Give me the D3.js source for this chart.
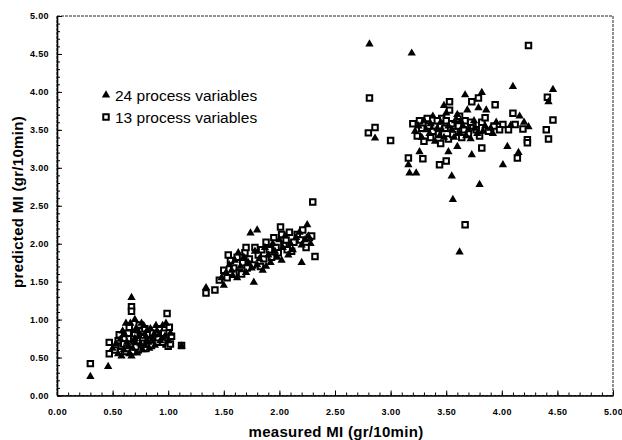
<!DOCTYPE html>
<html>
<head>
<meta charset="utf-8">
<script src="https://cdn.jsdelivr.net/npm/d3@7"></script>
<style>
  body { margin: 0; background: #fff; }
  text { font-family: Arial, "Liberation Sans", sans-serif; fill: #000; }
</style>
</head>
<body>
<div id="chart"></div>
<script>
const width = 622;
const height = 440;

// axis ticks
const tickValues = [0, 0.5, 1, 1.5, 2, 2.5, 3, 3.5, 4, 4.5, 5];
const seriesNames = ["24 process variables", "13 process variables"];

// [measured, predicted] - 24 process variables (triangles)
const tri24 = [
    // low range
    [0.30,0.25],[0.46,0.38],[0.67,1.29],[0.70,1.00],[0.62,0.95],[0.66,0.95],[0.55,0.55],[0.58,0.52],
    [0.60,0.60],[0.63,0.70],[0.65,0.55],[0.67,0.52],[0.68,0.62],[0.70,0.75],[0.72,0.56],[0.73,0.85],
    [0.75,0.68],[0.77,0.60],[0.78,0.92],[0.80,0.78],[0.82,0.70],[0.84,0.88],[0.86,0.75],[0.88,0.66],
    [0.90,0.85],[0.92,0.80],[0.95,0.92],[0.98,0.95],[1.00,0.72],[1.02,0.82],[0.50,0.62],[0.53,0.68],
    [0.57,0.74],[0.61,0.80],[0.64,0.64],[0.69,0.70],[0.74,0.78],[0.79,0.66],[0.83,0.62],[0.87,0.80],
    [0.93,0.72],[0.97,0.78],[1.12,0.65],[0.71,0.88],[0.76,0.95],[0.59,0.85],[0.81,0.86],[0.89,0.92],
    // middle range
    [1.34,1.42],[1.77,1.49],[1.74,2.14],[1.80,2.18],[2.25,2.25],[2.20,1.75],[1.48,1.55],[1.52,1.62],
    [1.55,1.72],[1.58,1.58],[1.62,1.55],[1.60,1.78],[1.65,1.70],[1.68,1.82],[1.70,1.62],[1.72,1.75],
    [1.75,1.68],[1.78,1.90],[1.80,1.72],[1.82,1.80],[1.85,1.65],[1.87,1.95],[1.90,1.85],[1.92,1.75],
    [1.94,2.00],[1.96,1.90],[1.98,1.82],[2.00,2.05],[2.03,1.95],[2.05,2.10],[2.08,1.85],[2.10,2.00],
    [2.12,1.92],[2.15,2.08],[2.18,2.15],[2.20,1.98],[2.23,2.05],[2.26,2.10],[2.28,2.00],[1.50,1.45],
    [1.57,1.65],[1.63,1.88],[1.88,1.70],[2.02,1.78],
    // high range
    [2.81,4.63],[3.19,4.51],[2.86,3.39],[3.26,3.21],[3.16,3.04],[3.17,2.93],[3.23,2.93],[3.55,2.89],
    [3.52,3.21],[3.60,3.28],[3.56,2.58],[3.62,1.89],[3.67,3.96],[3.69,3.76],[4.10,4.07],[4.46,4.03],
    [4.42,3.87],[3.82,3.99],[3.79,3.79],[3.86,3.76],[4.24,3.54],[4.16,3.68],[3.73,3.17],[4.05,3.28],
    [4.15,3.20],[4.01,3.04],[3.80,2.78],[3.25,3.55],[3.30,3.62],[3.35,3.45],[3.38,3.68],[3.42,3.52],
    [3.45,3.60],[3.48,3.40],[3.50,3.72],[3.55,3.50],[3.58,3.62],[3.62,3.45],[3.65,3.55],[3.70,3.50],
    [3.75,3.62],[3.78,3.45],[3.85,3.55],[3.90,3.52],[3.95,3.60],[3.40,3.35],[3.32,3.50],[3.60,3.70],
    [3.72,3.38],[4.08,3.56],[3.22,3.48],[3.28,3.40],[3.36,3.58],[3.44,3.42],[3.52,3.55],[3.57,3.40],
    [3.63,3.62],[3.68,3.42],[3.76,3.52],[3.83,3.48],[3.92,3.45],[4.20,3.60],[3.48,3.82],[3.46,3.50]
];

// [measured, predicted] - 13 process variables (open squares)
const sq13 = [
    // low range
    [0.30,0.42],[0.47,0.55],[0.47,0.70],[0.67,1.17],[0.67,1.11],[0.99,1.08],[0.52,0.60],[0.55,0.72],
    [0.58,0.65],[0.60,0.75],[0.62,0.58],[0.64,0.82],[0.66,0.68],[0.68,0.58],[0.70,0.80],[0.72,0.66],
    [0.74,0.72],[0.76,0.85],[0.78,0.70],[0.80,0.62],[0.82,0.80],[0.84,0.72],[0.86,0.82],[0.88,0.74],
    [0.90,0.70],[0.92,0.88],[0.94,0.78],[0.96,0.82],[0.98,0.68],[1.00,0.65],[1.02,0.68],[1.01,0.90],
    [1.03,0.78],[0.56,0.80],[0.60,0.68],[0.63,0.62],[0.69,0.74],[0.73,0.60],[0.77,0.76],[0.81,0.68],
    [0.85,0.66],[0.91,0.76],[1.12,0.66],[0.65,0.90],[0.74,0.93],[0.79,0.88],[0.71,0.64],[0.95,0.70],
    // middle range
    [1.34,1.35],[1.42,1.39],[2.01,2.22],[2.30,2.55],[2.32,1.83],[1.46,1.52],[1.50,1.65],[1.53,1.55],
    [1.56,1.78],[1.59,1.68],[1.62,1.82],[1.64,1.62],[1.67,1.75],[1.69,1.88],[1.71,1.68],[1.73,1.80],
    [1.76,1.72],[1.78,1.95],[1.81,1.85],[1.83,1.70],[1.86,1.80],[1.88,2.02],[1.91,1.92],[1.93,1.82],
    [1.95,2.08],[1.97,1.95],[1.99,1.88],[2.02,2.12],[2.04,1.98],[2.06,2.05],[2.09,2.15],[2.11,1.90],
    [2.13,2.02],[2.16,2.12],[2.19,2.05],[2.21,2.18],[2.24,1.95],[2.27,2.08],[2.29,2.10],[1.70,1.95],
    [1.54,1.85],[1.66,1.60],[1.84,1.92],[2.07,1.92],
    // high range
    [2.81,3.92],[2.86,3.53],[2.80,3.46],[3.00,3.36],[3.29,3.12],[3.16,3.13],[3.44,3.04],[3.50,3.09],
    [3.67,2.25],[3.53,3.87],[3.53,3.76],[4.24,4.61],[4.41,3.93],[3.73,3.87],[3.79,3.92],[3.94,3.83],
    [4.46,3.63],[4.40,3.50],[4.42,3.38],[4.23,3.37],[4.23,3.33],[4.19,3.51],[4.01,3.57],[4.06,3.50],
    [4.12,3.57],[4.10,3.72],[3.82,3.26],[4.14,3.13],[3.20,3.58],[3.24,3.42],[3.28,3.52],[3.33,3.65],
    [3.36,3.40],[3.40,3.55],[3.43,3.45],[3.46,3.65],[3.49,3.52],[3.52,3.38],[3.55,3.58],[3.58,3.48],
    [3.61,3.55],[3.64,3.40],[3.67,3.62],[3.70,3.45],[3.74,3.55],[3.77,3.50],[3.82,3.60],[3.88,3.48],
    [3.93,3.55],[3.98,3.50],[3.30,3.35],[3.45,3.32],[3.62,3.68],[3.85,3.66],[3.38,3.48],[3.42,3.62],
    [3.56,3.44],[3.66,3.50],[3.72,3.60],[3.80,3.42],[3.26,3.62],[3.34,3.55],[3.50,3.62]
];

const x = d3.scaleLinear().domain([0, 5]).range([57, 613]);
const y = d3.scaleLinear().domain([0, 5]).range([395.5, 16]);

const svg = d3.select("#chart").append("svg")
    .attr("width", width)
    .attr("height", height);

// frame
svg.append("rect")
    .attr("x", x(0)).attr("y", y(5))
    .attr("width", x(5) - x(0)).attr("height", y(0) - y(5))
    .attr("fill", "none")
    .attr("stroke", "#222")
    .attr("stroke-width", 1)
    .attr("stroke-dasharray", "3,1");

const fmt = d3.format(".2f");
const minorTicks = d3.range(0, 51).map(i => i / 10);

// minor ticks (inward)
svg.append("g")
    .attr("transform", `translate(${x(0)},0)`)
    .call(d3.axisLeft(y).tickValues(minorTicks).tickSizeInner(-3).tickSizeOuter(0).tickFormat(""))
    .call(g => g.select(".domain").remove());
svg.append("g")
    .attr("transform", `translate(0,${y(0)})`)
    .call(d3.axisBottom(x).tickValues(minorTicks).tickSizeInner(-3).tickSizeOuter(0).tickFormat(""))
    .call(g => g.select(".domain").remove());

// major axes
svg.append("g")
    .attr("transform", `translate(${x(0)},0)`)
    .call(d3.axisLeft(y).tickValues(tickValues).tickSizeInner(-5).tickSizeOuter(0).tickPadding(8).tickFormat(fmt))
    .call(g => g.select(".domain").attr("stroke-width", 1.6))
    .call(g => g.selectAll("text")
        .style("font-size", "9px").style("font-weight", "bold").style("letter-spacing", "0.4px"));

svg.append("g")
    .attr("transform", `translate(0,${y(0)})`)
    .call(d3.axisBottom(x).tickValues(tickValues).tickSizeInner(-5).tickSizeOuter(0).tickPadding(13).tickFormat(fmt))
    .call(g => g.select(".domain").attr("stroke-width", 1.6))
    .call(g => g.selectAll("text")
        .style("font-size", "9px").style("font-weight", "bold").style("letter-spacing", "0.4px"));

// axis titles
svg.append("text")
    .attr("x", 336).attr("y", 437)
    .attr("text-anchor", "middle")
    .style("font-size", "15px").style("font-weight", "bold").style("letter-spacing", "0.3px")
    .text("measured MI (gr/10min)");

svg.append("text")
    .attr("transform", "translate(23,202) rotate(-90)")
    .attr("text-anchor", "middle")
    .style("font-size", "15px").style("font-weight", "bold").style("letter-spacing", "0.3px")
    .text("predicted MI (gr/10min)");

const triSym = d3.symbol(d3.symbolTriangle, 30);
const sqSym = d3.symbol(d3.symbolSquare, 30);

// squares
svg.append("g").selectAll("path")
    .data(sq13)
    .join("path")
    .attr("transform", d => `translate(${x(d[0])},${y(d[1])})`)
    .attr("d", sqSym)
    .attr("fill", "#fff")
    .attr("stroke", "#000")
    .attr("stroke-width", 2);

// triangles
svg.append("g").selectAll("path")
    .data(tri24)
    .join("path")
    .attr("transform", d => `translate(${x(d[0])},${y(d[1])})`)
    .attr("d", triSym)
    .attr("fill", "#000");

// legend
const legend = svg.append("g").attr("transform", "translate(106,95)");
legend.append("path").attr("d", triSym).attr("fill", "#000");
legend.append("path").attr("transform", "translate(0,22)").attr("d", sqSym)
    .attr("fill", "#fff").attr("stroke", "#000").attr("stroke-width", 2);
legend.selectAll("text")
    .data(seriesNames)
    .join("text")
    .attr("x", 9)
    .attr("y", (d, i) => i * 22 + 5.5)
    .style("font-size", "15.5px")
    .text(d => d);
</script>
</body>
</html>
